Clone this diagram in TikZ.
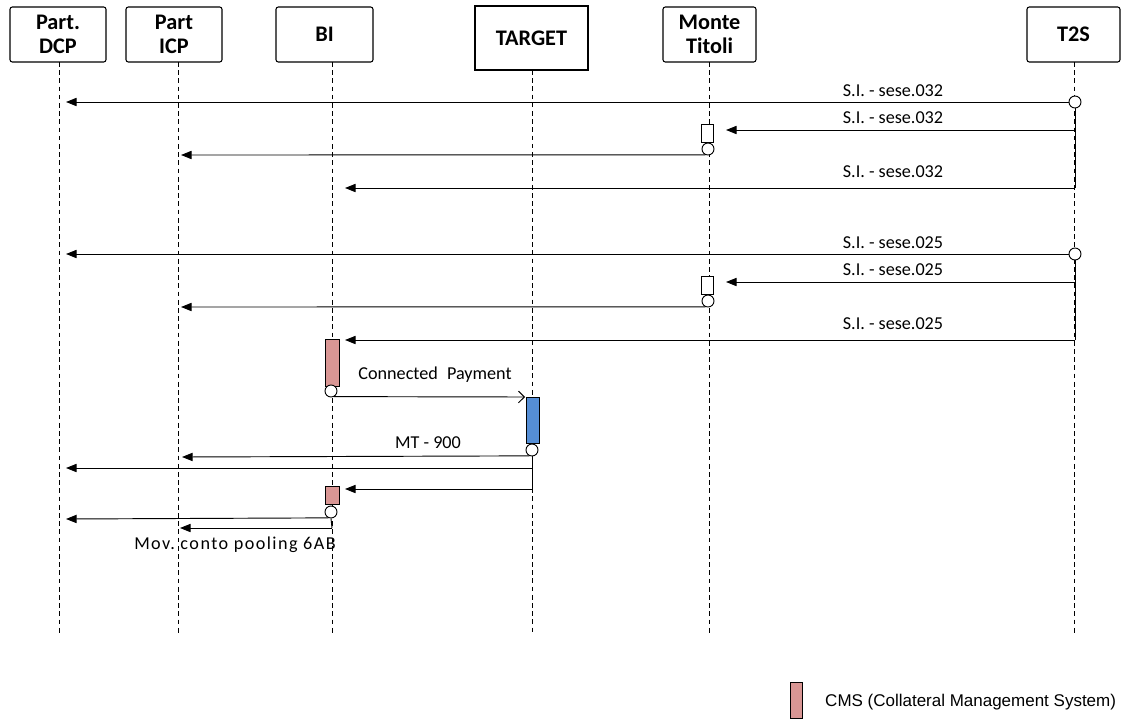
\documentclass[tikz,border=0pt]{standalone}
\usepackage{fontspec}
\setmainfont{Carlito}
\newfontfamily\legendfont{Liberation Sans}
\usetikzlibrary{arrows.meta}
\definecolor{cmspink}{RGB}{217,150,148}
\definecolor{tgtblue}{RGB}{85,142,213}
\tikzset{
  head/.style={draw,line width=0.9pt,rounded corners=2pt,minimum width=2.88cm,minimum height=1.65cm,
    align=center,inner sep=0pt,font=\bfseries\fontsize{19}{21}\selectfont},
  lifeline/.style={line width=0.6pt,dash pattern=on 4pt off 3pt},
  msg/.style={line width=0.8pt,-{Triangle[length=9pt,width=7pt]}},
  paymsg/.style={line width=0.8pt,-{Straight Barb[length=5pt,width=10pt]}},
  bar/.style={line width=0.8pt},
  port/.style={draw,circle,fill=white,minimum size=0.36cm,inner sep=0pt,line width=0.8pt},
  act/.style={draw,line width=0.8pt,minimum width=0.36cm,inner sep=0pt},
  lbl/.style={inner sep=0pt,font=\fontsize{15.5}{17}\selectfont}
}
\begin{document}
\begin{tikzpicture}[x=0.03cm,y=-0.03cm]
\useasboundingbox (0,0) rectangle (1121,727);
% heads
\node[head] (dcp) at (58,34.5) {Part.\\DCP};
\node[head] (icp) at (174,34.5) {Part\\ICP};
\node[head,minimum width=2.91cm] (bi) at (324.5,34.5) {BI};
\node[head,rounded corners=0pt,line width=1.4pt,minimum width=3.39cm,minimum height=1.92cm] (tgt) at (531.5,38) {TARGET};
\node[head,minimum width=2.79cm] (mt) at (709.5,34.5) {Monte\\Titoli};
\node[head,minimum width=2.79cm] (t2s) at (1073.5,34.5) {T2S};
% lifelines
\coordinate (dcpT) at (59,62);   \coordinate (dcpB) at (59,633);
\coordinate (icpT) at (178,62);  \coordinate (icpB) at (178,633);
\coordinate (biT) at (332,62);   \coordinate (biB) at (332,633);
\coordinate (tgtT) at (532,70);  \coordinate (tgtB) at (532,633);
\coordinate (mtT) at (709,62);   \coordinate (mtB) at (709,633);
\coordinate (t2sT) at (1074,62); \coordinate (t2sB) at (1074,633);
\foreach \l in {dcp,icp,bi,tgt,mt,t2s}
  \draw[lifeline] (\l T) -- (\l B);

% settlement instructions from T2S
\foreach \dy/\code in {0/032,152/025} {
  \node[port] (t2sp\code) at (1075,{102+\dy}) {};
  \coordinate (t2sa\code) at (1075,{130+\dy});
  \coordinate (t2sb\code) at (1075,{188+\dy});
  \draw[bar] (t2sp\code.south) -- (t2sb\code);
  \coordinate (dcpin\code) at (66,{102+\dy});
  \draw[msg] (t2sp\code.west) -- (dcpin\code);
  \node[lbl] (l1\code) at (893,{91+\dy}) {S.I. - sese.\code};
  \node[act,fill=white,minimum width=0.36cm,minimum height=0.54cm] (mtact\code) at (707,{133+\dy}) {};
  \node[port] (mtp\code) at (708,{149+\dy}) {};
  \coordinate (mtin\code) at (726,{130+\dy});
  \draw[msg] (t2sa\code) -- (mtin\code);
  \node[lbl] (l2\code) at (893,{118+\dy}) {S.I. - sese.\code};
  \coordinate (icpin\code) at (181,{155+\dy});
  \draw[msg] (mtp\code.-115) -- (icpin\code);
  \coordinate (biin\code) at (345,{188+\dy});
  \draw[msg] (t2sb\code) -- (biin\code);
  \node[lbl] (l3\code) at (893,{172+\dy}) {S.I. - sese.\code};
}

% connected payment
\node[act,fill=cmspink,minimum width=0.42cm,minimum height=1.41cm] (cms1) at (332,362.5) {};
\node[port] (cmsp1) at (331,391) {};
\node[act,fill=tgtblue,minimum width=0.39cm,minimum height=1.38cm] (tgtact) at (532.5,420) {};
\coordinate (tgtin) at (525,397);
\draw[paymsg] (cmsp1.-60) -- (tgtin);
\node[lbl] (lcp) at (435,375) {Connected\enspace Payment};

% MT 900
\node[port] (tgtp) at (532,450) {};
\coordinate (tgtb) at (532,489);
\coordinate (tgtm) at (532,468);
\draw[bar] (tgtp.south) -- (tgtb);
\coordinate (icpin900) at (182,457);
\draw[msg] (tgtp.-115) -- (icpin900);
\node[lbl] (lmt) at (428,443) {MT - 900};
\coordinate (dcpin900) at (66,468);
\draw[msg] (tgtm) -- (dcpin900);
\coordinate (biin900) at (345,489);
\draw[msg] (tgtb) -- (biin900);

% pooling
\node[act,fill=cmspink,minimum width=0.42cm,minimum height=0.54cm] (cms2) at (332,495) {};
\node[port] (cmsp2) at (331,512) {};
\coordinate (cmsb2) at (332,528);
\draw[bar] (cmsp2.south) -- (cmsb2);
\coordinate (dcpinpool) at (66,519);
\draw[msg] (cmsp2.-115) -- (dcpinpool);
\coordinate (icpinpool) at (180,528);
\draw[msg] (cmsb2) -- (icpinpool);
\node[lbl,font=\fontsize{15.5}{17}\selectfont\addfontfeature{LetterSpace=8}] (lpool) at (235,545) {Mov.\ conto pooling 6AB};

% legend
\node[act,fill=cmspink,minimum width=0.36cm,minimum height=1.08cm] (leg) at (796,700) {};
\node[anchor=west,inner sep=0pt,font=\legendfont\fontsize{14.5}{16}\selectfont] (legtxt) at (825,702) {CMS (Collateral Management System)};
\end{tikzpicture}
\end{document}
